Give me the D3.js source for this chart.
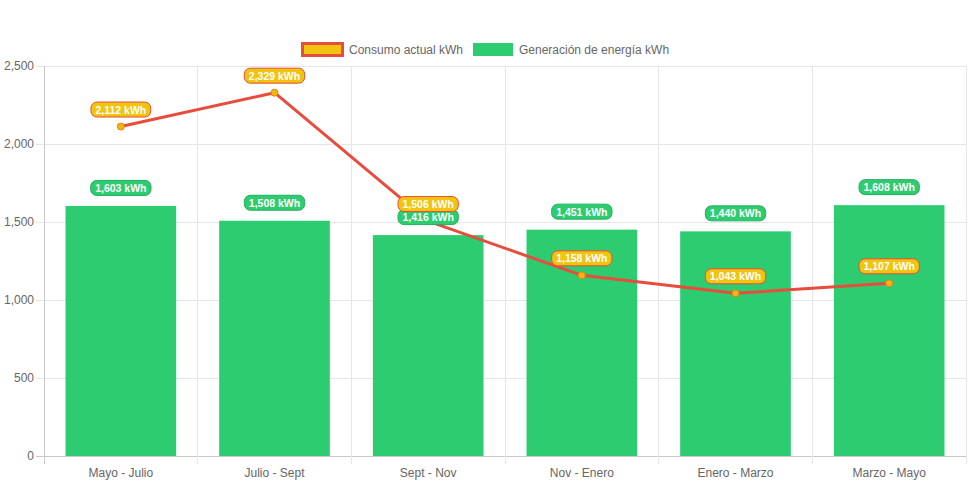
<!DOCTYPE html>
<html><head><meta charset="utf-8">
<script src="https://cdn.jsdelivr.net/npm/d3@7"></script>
<style>body{margin:0;background:#fff;}svg{display:block;font-family:"Liberation Sans",Arial,Helvetica,sans-serif;}</style>
</head><body><svg id="c" width="971" height="485"></svg>
<script>
const categories = ["Mayo - Julio","Julio - Sept","Sept - Nov","Nov - Enero","Enero - Marzo","Marzo - Mayo"];
const consumo = [2112, 2329, 1506, 1158, 1043, 1107];
const generacion = [1603, 1508, 1416, 1451, 1440, 1608];
const yTicks = [0, 500, 1000, 1500, 2000, 2500];
const seriesNames = ["Consumo actual kWh", "Generación de energía kWh"];

const svg = d3.select("#c");
const W = 971, H = 485;
const m = {l:44, r:5, t:66, b:29};
const x = d3.scaleBand().domain(categories).range([m.l, W - m.r]).paddingInner(0).paddingOuter(0);
const y = d3.scaleLinear().domain([0, 2500]).range([H - m.b, m.t]);
const fmt = d3.format(",");

// gridlines
const g = svg.append("g");
yTicks.forEach(t => {
  g.append("line").attr("x1", m.l - 8).attr("x2", W - m.r).attr("y1", y(t)).attr("y2", y(t))
   .attr("stroke", t === 0 ? "#c8c8c8" : "#e6e6e6").attr("stroke-width", 1).attr("shape-rendering","crispEdges");
});
const vx = categories.map(c => x(c)).concat([W - m.r]);
vx.forEach((vv, i) => {
  g.append("line").attr("x1", vv).attr("x2", vv).attr("y1", m.t).attr("y2", H - m.b + 8)
   .attr("stroke", i === 0 ? "#c8c8c8" : "#e6e6e6").attr("stroke-width", 1).attr("shape-rendering","crispEdges");
});

// y axis labels
const yAxis = d3.axisLeft(y).tickValues(yTicks).tickFormat(fmt).tickSize(0).tickPadding(10);
const ya = svg.append("g").attr("transform", `translate(${m.l},0)`).call(yAxis);
ya.select(".domain").remove();
ya.selectAll("text").attr("fill", "#666").style("font-size", "12px");

// x axis labels
const xAxis = d3.axisBottom(x).tickSize(0).tickPadding(12);
const xa = svg.append("g").attr("transform", `translate(0,${H - m.b})`).call(xAxis);
xa.select(".domain").remove();
xa.selectAll("text").attr("fill", "#666").style("font-size", "12px");

// bars
const bw = x.bandwidth() * 0.72;
svg.append("g").selectAll("rect").data(generacion).join("rect")
  .attr("x", (d, i) => x(categories[i]) + (x.bandwidth() - bw) / 2)
  .attr("y", d => y(d))
  .attr("width", bw)
  .attr("height", d => y(0) - y(d))
  .attr("fill", "#2ecc71");

// line
const cx = i => x(categories[i]) + x.bandwidth() / 2;
const line = d3.line().x((d, i) => cx(i)).y(d => y(d));
svg.append("path").datum(consumo).attr("d", line).attr("fill", "none")
  .attr("stroke", "#e74c3c").attr("stroke-width", 3).attr("stroke-linejoin","round");
svg.append("g").selectAll("circle").data(consumo).join("circle")
  .attr("cx", (d, i) => cx(i)).attr("cy", d => y(d)).attr("r", 3.5)
  .attr("fill", "#f5b50e").attr("stroke", "#e67e22").attr("stroke-width", 1);

// labels
function label(gx, cxv, cyv, text, bg, border) {
  const t = gx.append("text").attr("x", cxv).attr("y", cyv).attr("text-anchor", "middle")
    .attr("dominant-baseline", "central").attr("fill", "#fff").style("font-size", "10.5px")
    .style("font-weight", "bold").text(text);
  const bb = t.node().getBBox();
  const padX = 4.5, h = 15;
  gx.insert("rect", () => t.node())
    .attr("x", cxv - bb.width / 2 - padX).attr("y", cyv - h / 2)
    .attr("width", bb.width + 2 * padX).attr("height", h)
    .attr("rx", 6).attr("ry", 6).attr("fill", bg).attr("stroke", border).attr("stroke-width", 1);
}
const lg = svg.append("g");
generacion.forEach((d, i) => { const gg = lg.append("g"); label(gg, cx(i), y(d) - 18, fmt(d) + " kWh", "#2ecc71", "#27ae60"); });
consumo.forEach((d, i) => { const gg = lg.append("g"); label(gg, cx(i), y(d) - 17, fmt(d) + " kWh", "#f1c40f", "#e74c3c"); });

// legend
const leg = svg.append("g");
leg.append("rect").attr("x", 302.5).attr("y", 43.5).attr("width", 40).attr("height", 12)
  .attr("fill", "#f1c40f").attr("stroke", "#e74c3c").attr("stroke-width", 3);
leg.append("text").attr("x", 349).attr("y", 50).attr("dominant-baseline", "central")
  .attr("fill", "#666").style("font-size", "12px").text(seriesNames[0]);
leg.append("rect").attr("x", 473).attr("y", 43).attr("width", 40).attr("height", 13)
  .attr("fill", "#2ecc71");
leg.append("text").attr("x", 519).attr("y", 50).attr("dominant-baseline", "central")
  .attr("fill", "#666").style("font-size", "12px").text(seriesNames[1]);
</script></body></html>
